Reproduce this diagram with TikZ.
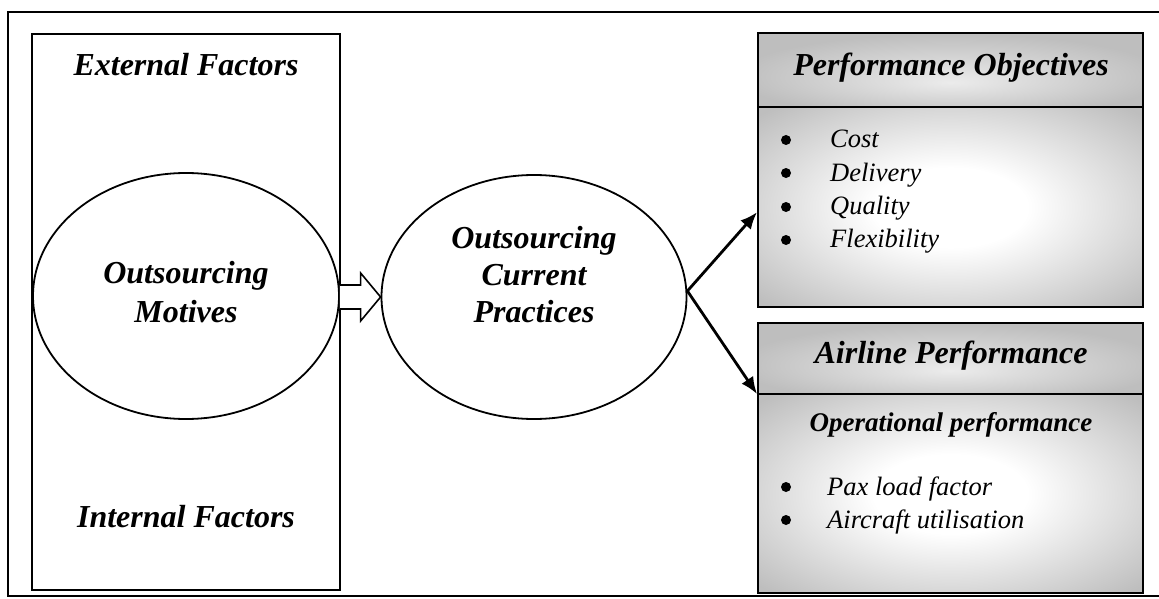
\documentclass[tikz,border=0pt]{standalone}
\usepackage{fontspec}
\setmainfont{Liberation Serif}
\usetikzlibrary{calc,arrows.meta,shapes.geometric}
\definecolor{boxgray}{RGB}{190,190,190}
% soft white glow in the middle of each grey panel
\pgfdeclareradialshading{glow}{\pgfpoint{0bp}{0bp}}{color(0bp)=(white); color(10bp)=(white); color(34bp)=(boxgray); color(50bp)=(boxgray)}
\pgfdeclareradialshading{glowsoft}{\pgfpoint{0bp}{-8bp}}{color(0bp)=(white!70!boxgray); color(28bp)=(boxgray); color(50bp)=(boxgray)}
\begin{document}
\begin{tikzpicture}[x=1pt,y=-1pt,
  frame/.style={draw=black,line width=2pt},
  heading/.style={font=\fontsize{32}{37}\selectfont\bfseries\itshape, anchor=base, inner sep=0pt},
  subheading/.style={font=\fontsize{27}{32}\selectfont\bfseries\itshape, anchor=base, inner sep=0pt},
  item/.style={font=\fontsize{26.5}{32}\selectfont\itshape, anchor=base west, inner sep=0pt},
  bullet/.style={circle, fill=black, inner sep=0pt, minimum size=10pt},
  oval/.style={ellipse, draw=black, line width=1.8pt, fill=white, inner sep=0pt},
  panel/.style={rectangle, draw=black, line width=2pt, inner sep=0pt, minimum width=385pt},
  blockarrow/.style={draw=black, line width=1.6pt, fill=white, line join=miter},
  link/.style={line width=2.8pt, -{Latex[length=17pt,width=14pt]}},
]
\useasboundingbox (0,0) rectangle (1159,599);

% outer frame
\draw[frame] (8,12) rectangle (1166,596);

% context box with the motives ellipse
\node[rectangle, frame, inner sep=0pt, minimum width=308pt, minimum height=556pt] (ctx) at (186,312) {};
\node[heading] (ext) at (186,76) {External Factors};
\node[heading] (int) at (186,527) {Internal Factors};
\node[oval, minimum width=306pt, minimum height=246pt] (m) at (186,296) {};
\node[heading] (m1) at (186,283) {Outsourcing};
\node[heading] (m2) at (186,322) {Motives};

% current practices ellipse
\node[oval, minimum width=305pt, minimum height=244pt] (p) at (534,297) {};
\node[heading] (p1) at (534,248) {Outsourcing};
\node[heading] (p2) at (534,285) {Current};
\node[heading] (p3) at (534,322) {Practices};

% hollow block arrow between the ellipses
\coordinate (tip) at (p.west);
\coordinate (ht) at ($(tip)+(-20,-24)$);
\coordinate (hb) at ($(tip)+(-20,24)$);
\coordinate (st) at ($(tip)+(-20,-12)$);
\coordinate (sb) at ($(tip)+(-20,12)$);
\coordinate (s0) at (m.east |- st);
\coordinate (s1) at (m.east |- sb);
\draw[blockarrow] (s0) -- (st) -- (ht) -- (tip) -- (hb) -- (sb) -- (s1);

% performance objectives panel
\shade[shading=glowsoft] (758,33) rectangle (1143,108);
\shade[shading=glow] (758,108) rectangle (1143,307);
\node[panel, minimum height=274pt] (po) at (950.5,170) {};
\draw[line width=2pt] ($(po.north west)+(0,75)$) coordinate (podiv) -- ($(po.north east)+(0,75)$);
\node[heading] (pot) at (951,76) {Performance Objectives};
\node[bullet] (b1) at (786,140) {};
\node[bullet] (b2) at (786,173) {};
\node[bullet] (b3) at (786,207) {};
\node[bullet] (b4) at (786,240) {};
\node[item] (i1) at (830,148) {Cost};
\node[item] (i2) at (830,181) {Delivery};
\node[item] (i3) at (830,214) {Quality};
\node[item] (i4) at (830,247) {Flexibility};

% airline performance panel
\shade[shading=glowsoft] (758,323) rectangle (1143,395);
\shade[shading=glow] (758,395) rectangle (1143,593);
\node[panel, minimum height=270pt] (ap) at (950.5,458) {};
\draw[line width=2pt] ($(ap.north west)+(0,72)$) coordinate (apdiv) -- ($(ap.north east)+(0,72)$);
\node[heading] (apt) at (951,363) {Airline Performance};
\node[subheading] (op) at (951,431) {Operational performance};
\node[bullet] (b5) at (786,487) {};
\node[bullet] (b6) at (786,520) {};
\node[item] (i5) at (827,495) {Pax load factor};
\node[item] (i6) at (827,528) {Aircraft utilisation};

% links from current practices to the panels
\coordinate (pout) at ($(p.east)+(0,-6)$);
\coordinate (poin) at ($(po.north west)!0.653!(po.south west)$);
\draw[link] (pout) -- (poin);
\draw[link] (pout) -- (apdiv);
\end{tikzpicture}
\end{document}
